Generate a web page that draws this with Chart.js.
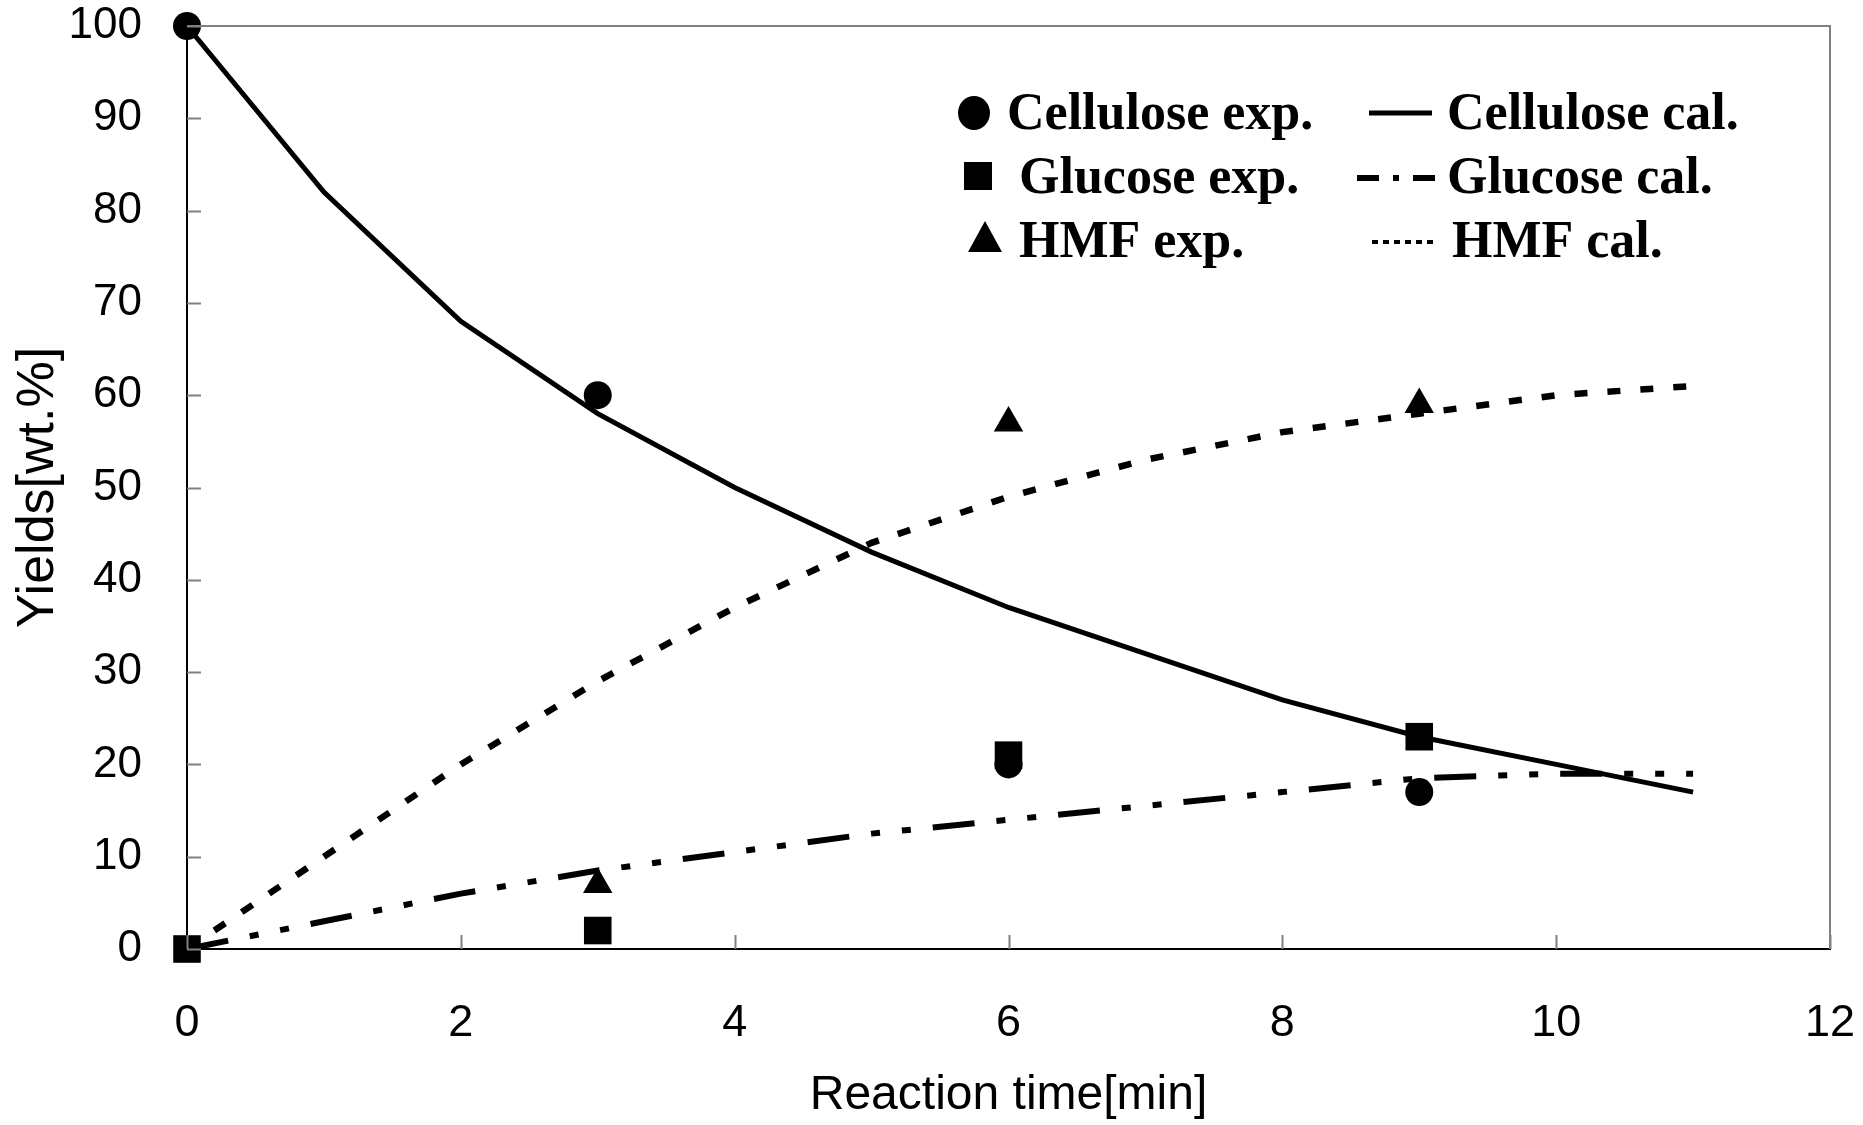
<!DOCTYPE html>
<html><head><meta charset="utf-8">
<script src="https://cdn.jsdelivr.net/npm/chart.js@4.4.1/dist/chart.umd.min.js"></script>
<style>html,body{margin:0;padding:0;background:#fff;}#wrap{width:1863px;height:1125px;}</style>
</head><body><div id="wrap"><canvas id="c" width="1863" height="1125"></canvas></div>
<script>
// ---- data ----
const timeCal = [0, 1, 2, 3, 4, 5, 6, 7, 8, 9, 10, 11];
const celluloseCal = [100, 82, 68, 58, 50, 43, 37, 32, 27, 23, 20, 17];
const glucoseCal = [0, 3, 6, 8.5, 10.5, 12.5, 14, 15.5, 17, 18.5, 19, 19];
const hmfCal = [0, 10, 20, 29, 37, 44, 49, 53, 56, 58, 60, 61];

const celluloseExpT = [0, 3, 6, 9];
const celluloseExp = [100, 60, 20, 17];
const glucoseExpT = [0, 3, 6, 9];
const glucoseExp = [0, 2, 21, 23];
const hmfExpT = [3, 6, 9];
const hmfExp = [7, 57, 59];

const xTicks = [0, 2, 4, 6, 8, 10, 12];
const yTicks = [0, 10, 20, 30, 40, 50, 60, 70, 80, 90, 100];

const pts = (xs, ys) => xs.map((x, i) => ({x: x, y: ys[i]}));

const SANS = '"Liberation Sans", Arial, sans-serif';
const SERIF = '"Liberation Serif", "DejaVu Serif", serif';

const glucoseDash = [42, 22, 9, 22, 9, 22];
const hmfDash = [13, 20];

// frame (top/right grey) + inward ticks
const framePlugin = {
  id: 'frame',
  afterDatasetsDraw(chart) {
    const {ctx, chartArea: a, scales: {x, y}} = chart;
    ctx.save();
    ctx.strokeStyle = '#808080';
    ctx.lineWidth = 2;
    ctx.beginPath();
    ctx.moveTo(a.left, a.top); ctx.lineTo(a.right, a.top); ctx.lineTo(a.right, a.bottom);
    ctx.stroke();
    ctx.beginPath();
    y.ticks.forEach(t => { const py = Math.round(y.getPixelForValue(t.value)) + 0.5; ctx.moveTo(a.left, py); ctx.lineTo(a.left + 14, py); });
    x.ticks.forEach(t => { const px = Math.round(x.getPixelForValue(t.value)) + 0.5; ctx.moveTo(px, a.bottom); ctx.lineTo(px, a.bottom - 14); });
    ctx.stroke();
    ctx.restore();
  }
};

// two-column legend
const legendPlugin = {
  id: 'twoColLegend',
  afterDraw(chart, args, opts) {
    const ctx = chart.ctx;
    const ds = chart.data.datasets;
    ctx.save();
    ctx.fillStyle = '#000';
    ctx.strokeStyle = '#000';
    ctx.font = 'bold 52px ' + SERIF;
    ctx.textBaseline = 'alphabetic';
    opts.items.forEach(it => {
      const d = ds[it.ds];
      if (it.kind === 'marker') {
        const st = d.pointStyle;
        ctx.beginPath();
        if (st === 'circle') { ctx.ellipse(it.mx, it.my, 16, 17, 0, 0, Math.PI * 2); }
        else if (st === 'rect') { ctx.rect(it.mx - 14, it.my - 14, 28, 28); }
        else { ctx.moveTo(it.mx, it.my - 17); ctx.lineTo(it.mx + 17, it.my + 14); ctx.lineTo(it.mx - 17, it.my + 14); ctx.closePath(); }
        ctx.fill();
      } else {
        ctx.save();
        ctx.lineWidth = it.lw;
        ctx.setLineDash(it.dash || []);
        ctx.beginPath();
        ctx.moveTo(it.x1, it.my); ctx.lineTo(it.x2, it.my);
        ctx.stroke();
        ctx.restore();
      }
      ctx.fillText(d.label, it.tx, it.ty);
    });
    ctx.restore();
  }
};

new Chart(document.getElementById('c'), {
  type: 'scatter',
  data: {
    datasets: [
      {label: 'Cellulose exp.', data: pts(celluloseExpT, celluloseExp), pointStyle: 'circle', pointRadius: 14, pointHoverRadius: 14, backgroundColor: '#000', borderWidth: 0, showLine: false, clip: false},
      {label: 'Glucose exp.', data: pts(glucoseExpT, glucoseExp), pointStyle: 'rect', pointRadius: 19.5, pointHoverRadius: 19.5, backgroundColor: '#000', borderWidth: 0, showLine: false, clip: false},
      {label: 'HMF exp.', data: pts(hmfExpT, hmfExp), pointStyle: 'triangle', pointRadius: 17, pointHoverRadius: 17, backgroundColor: '#000', borderWidth: 0, showLine: false, clip: false},
      {label: 'Cellulose cal.', data: pts(timeCal, celluloseCal), showLine: true, borderColor: '#000', borderWidth: 5, pointRadius: 0, tension: 0, fill: false, clip: false},
      {label: 'Glucose cal.', data: pts(timeCal, glucoseCal), showLine: true, borderColor: '#000', borderWidth: 6, borderDash: glucoseDash, borderCapStyle: 'butt', pointRadius: 0, tension: 0, fill: false, clip: false},
      {label: 'HMF cal.', data: pts(timeCal, hmfCal), showLine: true, borderColor: '#000', borderWidth: 6.5, borderDash: hmfDash, borderCapStyle: 'butt', pointRadius: 0, tension: 0, fill: false, clip: false}
    ]
  },
  options: {
    responsive: false,
    animation: false,
    devicePixelRatio: 1,
    layout: {padding: {left: 0, top: 26, right: 33, bottom: 0}},
    plugins: {
      legend: {display: false},
      tooltip: {enabled: false},
      twoColLegend: {
        items: [
          {ds: 0, kind: 'marker', mx: 974, my: 113, tx: 1007, ty: 129},
          {ds: 1, kind: 'marker', mx: 978, my: 176, tx: 1019, ty: 193},
          {ds: 2, kind: 'marker', mx: 985, my: 238, tx: 1019, ty: 257},
          {ds: 3, kind: 'line', x1: 1369, x2: 1432, my: 113, lw: 5, tx: 1447, ty: 129},
          {ds: 4, kind: 'line', x1: 1357, x2: 1445, my: 178, lw: 6, dash: [22, 14, 6, 14], tx: 1447, ty: 193},
          {ds: 5, kind: 'line', x1: 1372, x2: 1437, my: 242, lw: 4, dash: [6, 5], tx: 1452, ty: 257}
        ]
      }
    },
    scales: {
      x: {
        type: 'linear', position: 'bottom', min: 0, max: 12,
        afterBuildTicks: s => { s.ticks = xTicks.map(v => ({value: v})); },
        afterFit: s => { s.height = 176; s.paddingLeft = 0; s.paddingRight = 0; },
        grid: {display: false},
        border: {display: true, color: '#000', width: 2},
        ticks: {color: '#000', padding: 40, maxRotation: 0, font: {family: SANS, size: 45}},
        title: {display: true, text: 'Reaction time[min]', color: '#000', font: {family: SANS, size: 48, lineHeight: 1}, padding: {top: 0, bottom: 5}}
      },
      y: {
        type: 'linear', position: 'left', min: 0, max: 100,
        afterBuildTicks: s => { s.ticks = yTicks.map(v => ({value: v})); },
        afterFit: s => { s.width = 187; s.paddingTop = 0; s.paddingBottom = 0; },
        grid: {display: false},
        border: {display: true, color: '#000', width: 2},
        ticks: {color: '#000', padding: 37, font: {family: SANS, size: 44}},
        title: {display: true, text: 'Yields[wt.%]', color: '#000', font: {family: SANS, size: 52, lineHeight: 1}, padding: {top: 13, bottom: 0}}
      }
    }
  },
  plugins: [framePlugin, legendPlugin]
});
</script>
</body></html>
